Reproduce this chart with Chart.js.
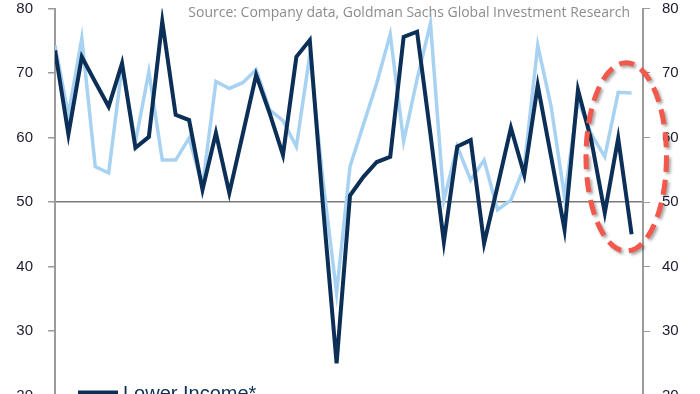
<!DOCTYPE html>
<html>
<head>
<meta charset="utf-8">
<script src="https://cdn.jsdelivr.net/npm/chart.js@4.4.1/dist/chart.umd.min.js"></script>
<style>
html, body { margin: 0; padding: 0; background: #fff; overflow: hidden; }
</style>
</head>
<body>
<canvas id="chart" width="700" height="400"></canvas>
<script>
// monthly readings, oldest first
const lowerIncome = [73.5, 60.5, 72.5, 68.6, 64.8, 71.5, 58.4, 60.1, 78.0, 63.5,
	62.7, 51.9, 60.7, 51.4, 60.5, 69.7, 63.8, 57.3, 72.5, 75.1,
	49.0, 25.0, 51.0, 53.9, 56.2, 57.0, 75.6, 76.4, 60.5, 43.8,
	58.6, 59.6, 43.6, 52.4, 61.5, 54.2, 68.1, 57.0, 45.7, 67.4,
	59.5, 48.3, 59.9, 45.0];
const higherIncome = [74.3, 63.5, 75.4, 55.5, 54.5, 71.0, 59.3, 70.2, 56.5, 56.5,
	59.9, 52.4, 68.7, 67.6, 68.5, 70.5, 64.3, 62.6, 58.6, 72.8,
	53.0, 35.9, 55.5, 62.0, 68.5, 76.0, 59.4, 69.0, 77.7, 50.3,
	58.6, 53.4, 56.5, 48.8, 50.3, 55.5, 74.3, 64.8, 50.8, 65.8,
	60.5, 57.0, 67.0, 66.9];
const yTicks = [20, 30, 40, 50, 60, 70, 80];
const sourceNote = 'Source: Company data, Goldman Sachs Global Investment Research';

// red dashed ring round the last few months (data units)
const circled = { x: 42.6, y: 57.0, rx: 3.0, ry: 14.6 };

const navy = '#0c2f58';
const sky = '#a7d2f1';
const tickFont = { family: 'Liberation Sans, Arial', size: 15 };

function toPoints(arr){
	return arr.map((v, i) => ({ x: i, y: v }));
}

// fixed axis widths, no extra room for half labels
function fitAxis(width){
	return s => {
		s.width = width;
		s.paddingTop = 0;
		s.paddingBottom = 0;
	};
}

const extras = {
	id: 'extras',
	afterDatasetsDraw(chart){
		const ctx = chart.ctx;
		const xs = chart.scales.x;
		const ys = chart.scales.y;

		// dashed ellipse
		const cx = xs.getPixelForValue(circled.x);
		const cy = ys.getPixelForValue(circled.y);
		const rx = xs.getPixelForValue(circled.x + circled.rx) - cx;
		const ry = cy - ys.getPixelForValue(circled.y + circled.ry);
		ctx.save();
		ctx.strokeStyle = '#f2584b';
		ctx.lineWidth = 5;
		ctx.setLineDash([15, 8]);
		ctx.shadowColor = 'rgba(0,0,0,0.35)';
		ctx.shadowBlur = 3;
		ctx.shadowOffsetX = 2;
		ctx.shadowOffsetY = 2;
		ctx.beginPath();
		ctx.ellipse(cx, cy, rx, ry, 0, 0, Math.PI * 2);
		ctx.stroke();
		ctx.restore();
	},
	afterDraw(chart){
		const ctx = chart.ctx;
		const area = chart.chartArea;
		ctx.save();
		// source line, top right
		ctx.font = '14px "Open Sans"';
		ctx.fillStyle = '#8c8c8c';
		ctx.textAlign = 'right';
		ctx.textBaseline = 'alphabetic';
		ctx.fillText(sourceNote, area.right - 13, 17);

		// legend (only first entry fits on the page)
		const ds = chart.data.datasets[0];
		const ly = area.bottom - 3;
		ctx.strokeStyle = ds.borderColor;
		ctx.lineWidth = 4;
		ctx.beginPath();
		ctx.moveTo(area.left + 23, ly);
		ctx.lineTo(area.left + 63, ly);
		ctx.stroke();
		ctx.font = '20px "Liberation Sans", Arial';
		ctx.fillStyle = navy;
		ctx.textAlign = 'left';
		ctx.fillText(ds.label, area.left + 68, ly + 7);
		ctx.restore();
	}
};

const ctx = document.getElementById('chart').getContext('2d');
const chart = new Chart(ctx, {
	type: 'line',
	data: {
		datasets: [{
			label: 'Lower Income*',
			data: toPoints(lowerIncome),
			borderColor: navy,
			borderWidth: 4,
			pointRadius: 0,
			tension: 0
		},{
			label: 'Higher Income*',
			data: toPoints(higherIncome),
			borderColor: sky,
			borderWidth: 3.5,
			pointRadius: 0,
			tension: 0
		}]
	},
	options: {
		responsive: false,
		animation: false,
		devicePixelRatio: 1,
		layout: { padding: { top: 8.5, bottom: 4.5, left: 0, right: 0 } },
		plugins: {
			legend: { display: false },
			tooltip: { enabled: false }
		},
		scales: {
			x: {
				type: 'linear',
				display: false,
				min: 0,
				max: 43.85
			},
			y: {
				position: 'left',
				min: yTicks[0],
				max: yTicks[yTicks.length - 1],
				afterFit: fitAxis(55),
				afterBuildTicks: s => { s.ticks = yTicks.map(v => ({ value: v })); },
				border: { color: '#9b9b9b', width: 2 },
				grid: {
					color: c => c.tick && c.tick.value === 50 ? '#7a7a7a' : 'rgba(0,0,0,0)',
					lineWidth: 1.5,
					tickColor: '#9b9b9b',
					tickLength: 7
				},
				ticks: { color: '#1c1c30', font: tickFont, padding: 15 }
			},
			y2: {
				position: 'right',
				min: yTicks[0],
				max: yTicks[yTicks.length - 1],
				afterFit: fitAxis(57),
				afterBuildTicks: s => { s.ticks = yTicks.map(v => ({ value: v })); },
				border: { color: '#9b9b9b', width: 2 },
				grid: { drawOnChartArea: false, color: '#9b9b9b', tickLength: 7 },
				ticks: { color: '#1c1c30', font: tickFont, padding: 12 }
			}
		}
	},
	plugins: [extras]
});
</script>
</body>
</html>
